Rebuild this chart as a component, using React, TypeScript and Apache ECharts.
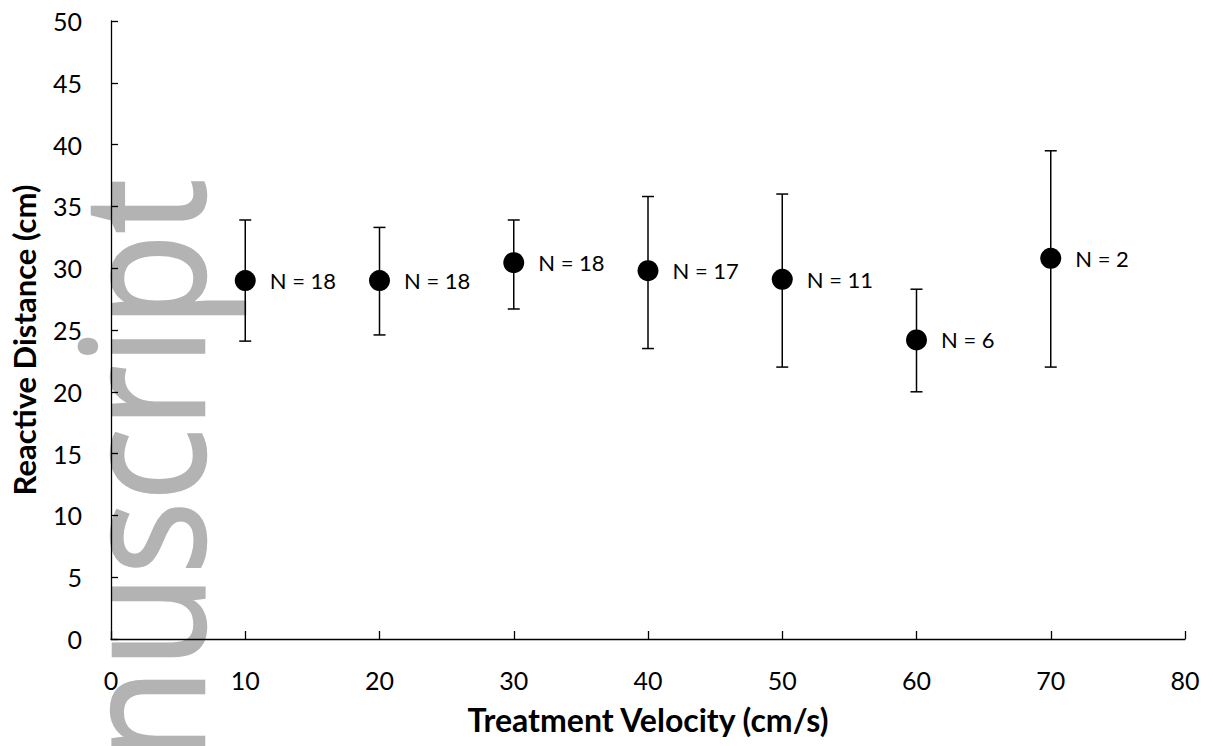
import React, { useEffect, useRef } from "react";
import * as echarts from "echarts";

const velocities = [10, 20, 30, 40, 50, 60, 70];
const meanDistance = [29.0, 29.0, 30.45, 29.8, 29.1, 24.2, 30.8];
const lowerBound = [24.1, 24.6, 26.7, 23.5, 22.0, 20.0, 22.0];
const upperBound = [33.9, 33.3, 33.9, 35.8, 36.0, 28.3, 39.5];
const sampleSizes = [18, 18, 18, 17, 11, 6, 2];
const xTitle = "Treatment Velocity (cm/s)";
const yTitle = "Reactive Distance (cm)";
const watermark = "nuscript";

const FONT = "Lato";

export default function App() {
  const ref = useRef<HTMLDivElement>(null);
  useEffect(() => {
    if (!ref.current) return;
    const chart = echarts.init(ref.current, null, { renderer: "svg" });
    const scatterData = velocities.map((v, i) => [v, meanDistance[i]]);
    const errData = velocities.map((v, i) => [v, lowerBound[i], upperBound[i]]);
    chart.setOption({
      animation: false,
      backgroundColor: "#ffffff",
      grid: { left: 111, right: 28, top: 21, bottom: 107 },
      graphic: [
        {
          type: "text",
          x: 138,
          y: 179,
          rotation: Math.PI / 2,
          scaleX: 0.9,
          z: -10,
          silent: true,
          style: {
            text: watermark,
            fill: "#b3b3b3",
            stroke: "#b3b3b3",
            lineWidth: 2.5,
            font: "170px 'Open Sans'",
            textAlign: "right",
            textVerticalAlign: "middle",
          },
        },
      ],
      xAxis: {
        type: "value",
        min: 0,
        max: 80,
        interval: 10,
        name: xTitle,
        nameLocation: "middle",
        nameGap: 64,
        nameTextStyle: { fontFamily: FONT, fontWeight: "bold", fontSize: 32, color: "#000" },
        axisLine: { lineStyle: { color: "#000", width: 1.3 } },
        axisTick: { inside: true, length: 8, lineStyle: { color: "#000", width: 1.3 } },
        axisLabel: { fontFamily: FONT, fontSize: 25, color: "#000", margin: 28 },
        splitLine: { show: false },
      },
      yAxis: {
        type: "value",
        min: 0,
        max: 50,
        interval: 5,
        name: yTitle,
        nameLocation: "middle",
        nameGap: 72,
        nameRotate: 90,
        nameTextStyle: {
          fontFamily: FONT,
          fontWeight: "bold",
          fontSize: 31,
          color: "#000",
          padding: [0, 20, 0, 0],
        },
        axisLine: { show: true, lineStyle: { color: "#000", width: 1.3 } },
        axisTick: { show: true, inside: true, length: 7, lineStyle: { color: "#000", width: 1.3 } },
        axisLabel: { fontFamily: FONT, fontSize: 25, color: "#000", margin: 29 },
        splitLine: { show: false },
      },
      series: [
        {
          type: "custom",
          data: errData,
          encode: { x: 0, y: [1, 2] },
          z: 3,
          renderItem: (params: any, api: any) => {
            const x = api.value(0);
            const lo = api.coord([x, api.value(1)]);
            const hi = api.coord([x, api.value(2)]);
            const w = 6;
            const st = { stroke: "#000", lineWidth: 1.5 };
            return {
              type: "group",
              children: [
                { type: "line", shape: { x1: hi[0], y1: hi[1], x2: lo[0], y2: lo[1] }, style: st },
                { type: "line", shape: { x1: hi[0] - w, y1: hi[1], x2: hi[0] + w, y2: hi[1] }, style: st },
                { type: "line", shape: { x1: lo[0] - w, y1: lo[1], x2: lo[0] + w, y2: lo[1] }, style: st },
              ],
            };
          },
        },
        {
          type: "scatter",
          data: scatterData,
          symbol: "circle",
          symbolSize: 21,
          z: 4,
          itemStyle: { color: "#000", opacity: 1 },
          label: {
            show: true,
            position: "right",
            distance: 14,
            fontFamily: FONT,
            fontSize: 22,
            color: "#000",
            formatter: (p: any) => "N = " + sampleSizes[p.dataIndex],
          },
        },
      ],
    });
    return () => chart.dispose();
  }, []);
  return (
    <div
      ref={ref}
      style={{ position: "absolute", left: 0, top: 0, width: 1213, height: 746 }}
    />
  );
}
